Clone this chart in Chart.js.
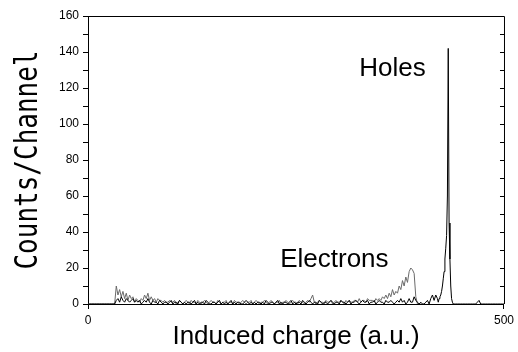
<!DOCTYPE html>
<html>
<head>
<meta charset="utf-8">
<script src="https://cdn.jsdelivr.net/npm/chart.js@4"></script>
<style>
html, body { margin: 0; padding: 0; background: #fff; }
</style>
</head>
<body>
<canvas id="spectrum" width="518" height="352"></canvas>
<script>
// electrons (gray): channels 0..400, every 2nd channel
const electronStart = 0;
const electronStep = 2;
const electronCounts = [
    0, 0, 0, 0, 0, 0, 0, 0, 0, 0, 0, 0, 0, 0, 0, 0, 0,
    10, 5, 8, 4, 7, 3, 6, 2, 5, 3, 4, 1, 3, 2, 1, 3, 2, 5, 3, 6,
    2, 4, 2, 3, 1, 3, 2, 2, 1, 2, 1, 1, 2, 1,
    1, 2, 0, 1, 2, 1, 0, 1, 2, 1, 0, 2, 1, 1, 0, 2, 1, 0, 1, 2,
    1, 0, 1, 2, 1, 1, 0, 2, 1, 0, 1, 1, 2, 0, 1, 1, 0, 2, 1, 1,
    0, 1, 2, 1, 0, 1, 1, 2, 0, 1, 2, 1, 0, 1, 1, 2, 1, 0, 1, 2,
    1, 0, 1, 1, 2, 0, 1, 1, 2, 1, 0, 1, 2, 1, 1, 0, 2, 1, 1, 0,
    1, 2, 1, 3, 5, 1, 0, 1, 2, 1, 1, 0, 2, 1, 1, 2, 0, 1, 2, 1,
    1, 2, 1, 0, 2, 1, 2, 1, 1, 2, 2, 1, 3, 1, 2, 2, 1, 3, 2, 2,
    2, 1, 3, 2, 3, 2, 4, 3, 5, 3, 6, 4, 8, 5, 7, 6, 10, 8, 13, 10,
    15, 12, 18, 20, 19, 17, 4, 0, 0, 0
];

// holes (black): noise 0..420 every 2nd channel, peak channel by channel, tail 442..500
const holeNoiseStart = 0;
const holeNoiseStep = 2;
const holeNoise = [
    0, 0, 0, 0, 0, 0, 0, 0, 0, 0, 0, 0, 0, 0, 0, 0, 0,
    2, 3, 1, 4, 2, 1, 3, 2, 1, 2, 3, 1, 2, 1, 2, 0, 1, 2, 1, 3,
    1, 0, 2, 1, 1, 0, 2, 1, 0, 1, 1, 0, 1, 2,
    0, 1, 1, 0, 2, 1, 0, 1, 0, 1, 1, 0, 1, 2, 0, 1, 0, 1, 1, 0,
    2, 1, 0, 0, 1, 1, 0, 1, 2, 0, 1, 0, 1, 0, 1, 2, 0, 1, 0, 1,
    1, 0, 0, 1, 2, 1, 0, 1, 0, 1, 0, 1, 1, 0, 1, 0, 2, 1, 0, 1,
    1, 0, 1, 2, 0, 1, 0, 1, 1, 0, 1, 2, 0, 1, 0, 1, 1, 0, 2, 1,
    0, 1, 2, 1, 0, 1, 1, 0, 2, 1, 0, 1, 1, 0, 1, 2, 1, 0, 1, 1,
    0, 2, 1, 1, 0, 1, 2, 0, 1, 1, 2, 1, 0, 1, 2, 1, 1, 2, 0, 1,
    1, 2, 0, 1, 2, 1, 1, 0, 2, 1, 1, 2, 1, 0, 1, 2, 1, 3, 1, 2,
    0, 1, 3, 1, 1, 4, 2, 1, 0, 1, 0, 0, 1, 2, 0, 3, 5, 2, 5, 3
];
const holePeakChannels = [421, 422, 423, 424, 425, 426, 427, 428, 429, 430, 431, 432, 433, 434, 435, 436, 437, 438, 439, 440, 441];
const holePeakCounts = [1, 3, 4, 5, 7, 10, 14, 18, 25, 31, 38, 60, 142, 45, 25, 10, 3, 1, 0, 0, 0];
const holeTailStart = 442;
const holeTailStep = 2;
const holeTail = [0, 0, 0, 0, 0, 0, 0, 0, 0, 0, 0, 0, 0, 1, 2, 0, 0, 0, 0, 0, 0, 0, 0, 0, 0, 0, 0, 0, 0, 0];

const xTicks = [0, 500];
const yLabelStep = 20;

// labels written on the plot
const notes = [
    { text: 'Holes', x: 326, y: 126.5 },
    { text: 'Electrons', x: 231, y: 20.5 }
];

function toPoints(start, step, counts) {
    return counts.map((c, i) => ({ x: start + i * step, y: c }));
}

const electronPoints = toPoints(electronStart, electronStep, electronCounts);
const holePoints = toPoints(holeNoiseStart, holeNoiseStep, holeNoise)
    .concat(holePeakChannels.map((ch, i) => ({ x: ch, y: holePeakCounts[i] })))
    .concat(toPoints(holeTailStart, holeTailStep, holeTail));

const framePlugin = {
    id: 'frame',
    afterDraw(chart) {
        const ctx = chart.ctx;
        const a = chart.chartArea;
        const y = chart.scales.y;
        ctx.save();
        ctx.strokeStyle = '#000';
        ctx.lineWidth = 1;
        ctx.beginPath();
        ctx.moveTo(a.left, a.top + 0.5);
        ctx.lineTo(a.right + 0.5, a.top + 0.5);
        ctx.lineTo(a.right + 0.5, a.bottom);
        // inward ticks on the right side
        for (let v = 10; v < 160; v += 10) {
            const py = Math.round(y.getPixelForValue(v)) + 0.5;
            ctx.moveTo(a.right + 0.5, py);
            ctx.lineTo(a.right - 4, py);
        }
        ctx.stroke();

        // notes
        ctx.fillStyle = '#000';
        ctx.font = '26px "Liberation Sans", Arial, sans-serif';
        ctx.textBaseline = 'alphabetic';
        ctx.textAlign = 'left';
        notes.forEach(n => {
            ctx.fillText(n.text, chart.scales.x.getPixelForValue(n.x), y.getPixelForValue(n.y));
        });

        // y axis title, tall narrow glyphs
        ctx.translate(37, (a.top + a.bottom) / 2);
        ctx.rotate(-Math.PI / 2);
        ctx.scale(1, 1.25);
        ctx.font = '26px "DejaVu Sans Mono", monospace';
        ctx.textAlign = 'center';
        ctx.textBaseline = 'alphabetic';
        ctx.fillText('Counts/Channel', 0, 0);
        ctx.restore();
    }
};

const spectrumChart = new Chart(document.getElementById('spectrum'), {
    type: 'line',
    data: {
        datasets: [{
            label: 'Holes',
            data: holePoints,
            borderColor: '#000',
            borderWidth: 1,
            pointRadius: 0,
            tension: 0,
            order: 0
        }, {
            label: 'Electrons',
            data: electronPoints,
            borderColor: '#6a6a6a',
            borderWidth: 1,
            pointRadius: 0,
            tension: 0,
            order: 1
        }]
    },
    options: {
        responsive: false,
        animation: false,
        layout: { padding: { top: 16, right: 10, left: 0, bottom: 0 } },
        plugins: {
            legend: { display: false },
            tooltip: { enabled: false }
        },
        scales: {
            x: {
                type: 'linear',
                min: 0,
                max: 500,
                afterBuildTicks: scale => { scale.ticks = xTicks.map(v => ({ value: v })); },
                ticks: {
                    color: '#000',
                    font: { family: '"Liberation Sans", Arial, sans-serif', size: 12 },
                    padding: 4,
                    maxRotation: 0
                },
                grid: { display: true, drawOnChartArea: false, tickLength: 5, color: '#000' },
                border: { color: '#000', width: 1 },
                title: {
                    display: true,
                    text: 'Induced charge (a.u.)',
                    color: '#000',
                    font: { family: '"Liberation Sans", Arial, sans-serif', size: 26 },
                    padding: { top: 0, bottom: 0 }
                },
                afterFit: scale => { scale.height = 48; }
            },
            y: {
                min: 0,
                max: 160,
                ticks: {
                    stepSize: 10,
                    color: '#000',
                    font: { family: '"Liberation Sans", Arial, sans-serif', size: 12 },
                    padding: 4,
                    callback: v => (v % yLabelStep === 0 ? v : '')
                },
                grid: { display: true, drawOnChartArea: false, tickLength: 5, color: '#000' },
                border: { color: '#000', width: 1 },
                afterFit: scale => { scale.width = 88; }
            }
        }
    },
    plugins: [framePlugin]
});
</script>
</body>
</html>
